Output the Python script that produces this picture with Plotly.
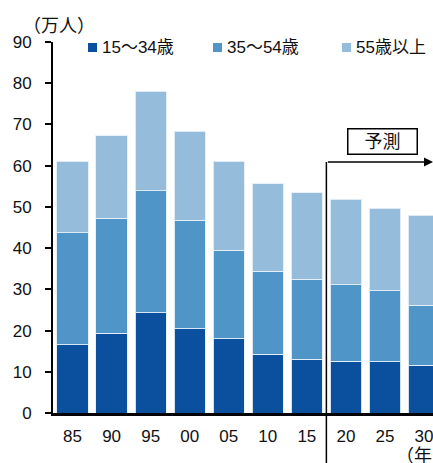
import plotly.graph_objects as go

years = ["85", "90", "95", "00", "05", "10", "15", "20", "25", "30"]
age_15_34 = [16.5, 19.4, 24.3, 20.4, 18.0, 14.3, 13.1, 12.6, 12.4, 11.6]
age_35_54 = [27.2, 27.9, 29.6, 26.4, 21.5, 20.1, 19.4, 18.5, 17.2, 14.6]
age_55_up = [17.4, 19.9, 24.2, 21.6, 21.6, 21.2, 20.9, 20.8, 20.1, 21.8]

series_names = ["15～34歳", "35～54歳", "55歳以上"]
series_vals = [age_15_34, age_35_54, age_55_up]
colors = ["#0B4F9F", "#4F95C8", "#95BCDA"]

FONT = "Liberation Sans, Arial, Noto Sans CJK JP, sans-serif"

fig = go.Figure()
for name, vals, col in zip(series_names, series_vals, colors):
    fig.add_trace(go.Bar(x=years, y=vals, name=name, marker_color=col,
                         marker_line=dict(color="rgba(230,240,248,0.9)", width=1),
                         showlegend=False))

fig.update_layout(
    barmode="stack", bargap=0.2,
    width=433, height=463,
    margin=dict(l=53, r=0, t=42, b=50),
    paper_bgcolor="white", plot_bgcolor="white",
    font=dict(family=FONT, size=17, color="#111"),
    xaxis=dict(type="category", range=[-0.5, 9.23], showline=True, linecolor="black",
               linewidth=3, ticks="", showgrid=False, ticklabelstandoff=6,
               tickfont=dict(size=17)),
    yaxis=dict(range=[0, 90], dtick=10, showline=True, linecolor="black", linewidth=2,
               ticks="outside", ticklen=6, tickwidth=2, tickcolor="black",
               showgrid=False, zeroline=False, ticklabelstandoff=10,
               tickfont=dict(size=17)),
)

# manual legend
leg_sq_x = [88, 213, 342]
for name, col, px in zip(series_names, colors, leg_sq_x):
    fig.add_shape(type="rect", xref="paper", yref="paper",
                  x0=(px - 53) / 380, x1=(px + 9 - 53) / 380,
                  y0=(413 - 52) / 371, y1=(413 - 43) / 371,
                  fillcolor=col, line=dict(width=0))
    fig.add_annotation(text=name, xref="paper", yref="paper",
                       x=(px + 12 - 53) / 380, y=(413 - 48) / 371,
                       xanchor="left", yanchor="middle", showarrow=False,
                       font=dict(size=17))

# unit label
fig.add_annotation(text="（万人）", xref="paper", yref="paper",
                   x=(21 - 53) / 380, y=(413 - 26) / 371,
                   xanchor="left", yanchor="middle", showarrow=False,
                   font=dict(size=18))
# year label
fig.add_annotation(text="（年", xref="paper", yref="paper",
                   x=(394 - 53) / 380, y=(413 - 456) / 371,
                   xanchor="left", yanchor="middle", showarrow=False,
                   font=dict(size=18))

# forecast divider
div_x = 6.5
arrow_y = (413 - 162) / 371
fig.add_shape(type="line", xref="x", yref="paper", x0=div_x, x1=div_x,
              y0=(413 - 470) / 371, y1=arrow_y,
              line=dict(color="black", width=1.5))
fig.add_annotation(xref="x", yref="paper", x=9.23, y=arrow_y,
                   axref="x", ayref="pixel", ax=div_x, ay=0,
                   text="", showarrow=True, arrowhead=2, arrowsize=1.2,
                   arrowwidth=1.5, arrowcolor="black", standoff=0)
fig.add_annotation(text="予測", xref="paper", yref="paper",
                   x=(382 - 53) / 380, y=(413 - 141) / 371,
                   xanchor="center", yanchor="middle", showarrow=False,
                   bordercolor="black", borderwidth=1.5, borderpad=2,
                   bgcolor="white", width=64, height=20, font=dict(size=18))

fig.write_html("out.html")
